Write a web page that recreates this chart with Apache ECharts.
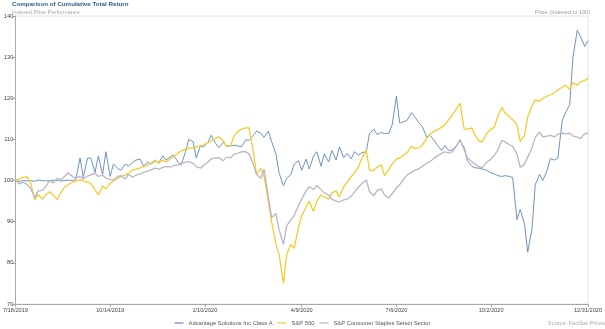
<!DOCTYPE html>
<html>
<head>
<meta charset="utf-8">
<script src="https://cdn.jsdelivr.net/npm/echarts@6/dist/echarts.min.js"></script>
<style>
  html, body { margin: 0; padding: 0; background: #fff; }
  #chart { width: 605px; height: 329px; }
</style>
</head>
<body>
<div id="chart"></div>
<script>
// Sample dates (twice a week), 7/18/2019 .. 12/31/2020
const dates = [
  '2019-07-18','2019-07-22','2019-07-25','2019-07-29','2019-08-01','2019-08-05','2019-08-08','2019-08-12','2019-08-15','2019-08-19',
  '2019-08-22','2019-08-26','2019-08-29','2019-09-02','2019-09-05','2019-09-09','2019-09-12','2019-09-16','2019-09-19','2019-09-23',
  '2019-09-26','2019-09-30','2019-10-03','2019-10-07','2019-10-10','2019-10-14','2019-10-17','2019-10-21','2019-10-24','2019-10-28',
  '2019-10-31','2019-11-04','2019-11-07','2019-11-11','2019-11-14','2019-11-18','2019-11-21','2019-11-25','2019-11-28','2019-12-02',
  '2019-12-05','2019-12-09','2019-12-12','2019-12-16','2019-12-19','2019-12-23','2019-12-26','2019-12-30','2020-01-02','2020-01-06',
  '2020-01-09','2020-01-13','2020-01-16','2020-01-20','2020-01-23','2020-01-27','2020-01-30','2020-02-03','2020-02-06','2020-02-10',
  '2020-02-13','2020-02-17','2020-02-20','2020-02-24','2020-02-27','2020-03-02','2020-03-05','2020-03-09','2020-03-12','2020-03-16',
  '2020-03-19','2020-03-23','2020-03-26','2020-03-30','2020-04-02','2020-04-06','2020-04-09','2020-04-13','2020-04-16','2020-04-20',
  '2020-04-23','2020-04-27','2020-04-30','2020-05-04','2020-05-07','2020-05-11','2020-05-14','2020-05-18','2020-05-21','2020-05-25',
  '2020-05-28','2020-06-01','2020-06-04','2020-06-08','2020-06-11','2020-06-15','2020-06-18','2020-06-22','2020-06-25','2020-06-29',
  '2020-07-02','2020-07-06','2020-07-09','2020-07-13','2020-07-16','2020-07-20','2020-07-23','2020-07-27','2020-07-30','2020-08-03',
  '2020-08-06','2020-08-10','2020-08-13','2020-08-17','2020-08-20','2020-08-24','2020-08-27','2020-08-31','2020-09-03','2020-09-07',
  '2020-09-10','2020-09-14','2020-09-17','2020-09-21','2020-09-24','2020-09-28','2020-10-01','2020-10-05','2020-10-08','2020-10-12',
  '2020-10-15','2020-10-19','2020-10-22','2020-10-26','2020-10-29','2020-11-02','2020-11-05','2020-11-09','2020-11-12','2020-11-16',
  '2020-11-19','2020-11-23','2020-11-26','2020-11-30','2020-12-03','2020-12-07','2020-12-10','2020-12-14','2020-12-17','2020-12-21',
  '2020-12-24','2020-12-28','2020-12-31'
];

// Indexed prices (start = 100)
const advantage = [
  100, 99.8, 100, 99.9, 100, 99.8, 100.1, 100, 99.9, 100,
  100.1, 100, 99.9, 100, 100.1, 100, 100.2, 105.5, 100.8, 105.5,
  105.5, 102, 106, 101.5, 107, 101, 104, 103, 102.5, 104,
  103.5, 104.5, 105, 105.2, 103.5, 104.5, 104, 104.8, 104.3, 106,
  105, 105.8, 106.2, 104.5, 103.8, 107, 110, 109.5, 105.5, 108.5,
  108.2, 109.4, 111, 109, 108, 109.3, 108.5, 108.4, 108.6, 108.4,
  108.2, 109.9, 109.8, 111, 112, 111.5, 110.5, 112, 109.5, 106.5,
  101.8, 98.8, 100.5, 101.5, 104, 104.8, 102.5, 105.2, 102.8, 106,
  107, 103.5, 106.5, 104.5, 107.3, 105, 108.2, 105.6, 106.6, 105.3,
  107, 106.2, 106.8, 107, 111.5, 112.5, 111.2, 111.7, 111.4, 111.5,
  113.5, 120.5, 114, 114.3, 114.7, 116.5, 115.5, 114, 113.2, 110.6,
  111, 109.8, 108.6, 107.3, 108.5, 107.2, 107.5, 108.5, 109.7, 108,
  104.8, 103.5, 103.1, 103, 102.8, 102.5, 102, 101.6, 101.2, 101,
  101.2, 101, 100.7, 90.5, 93, 89.5, 82.6, 88.3, 99, 101.5,
  100, 102.5, 105.3, 105, 105.5, 114.5, 116.4, 118.5, 130, 136.5,
  135, 132.6, 134
];

const sp500 = [
  100, 100.4, 100.8, 100.9, 99.5, 95.3, 96.6, 95.5, 96.5, 97.3,
  96.5, 95.4, 97, 98.5, 99, 99.6, 99.8, 100.2, 100, 99.6,
  99.3, 97.7, 96.5, 98.7, 98, 99.3, 99.9, 100.5, 101, 101.3,
  101.9, 102.6, 102.8, 103.1, 103.4, 103.8, 104.2, 105, 104.2, 105,
  104.5, 105.3, 105.8, 106.7, 107.2, 107.6, 107.9, 107.9, 108.2, 108.4,
  108.7, 109.3, 109.6, 110.3, 110.6, 109.7, 108.3, 108.5, 110.8, 112,
  112.5, 112.8, 112.8, 107, 101.5, 103, 101, 95, 90, 84.5,
  82, 75, 82, 84.5, 83.5, 88.7, 91.5, 93.5, 95, 92.5,
  95, 96.5, 96, 95.5, 97, 97.5, 96, 98.5, 99.5, 101,
  101.8, 103.5, 105.5, 107.4, 102.5, 102.5, 103.2, 103.8, 101.2, 102.8,
  104, 105.2, 105.5, 106.3, 106.8, 108.4, 107.8, 108, 108.6, 110.2,
  111.2, 112, 112.3, 113, 113.5, 115, 116, 117.5, 118.8, 112.5,
  112.5, 112.8, 111, 109.5, 109.5, 111.5, 112.3, 113, 115.5, 117.8,
  116.4, 115.5, 114.8, 113.5, 109.5, 111, 115.5, 118.2, 119.6, 119.3,
  120, 120.5, 120.8, 121.4, 122, 122.7, 123.2, 122.2, 123.8, 123.2,
  124, 124.3, 125
];

const staples = [
  100, 99.2, 99.6, 99, 98.2, 95.8, 97.5, 97.6, 98.5, 100.1,
  99.4, 100.6, 100.1, 101.1, 101.9, 101, 100.6, 101, 100.4, 101.1,
  101.4, 101.8, 101, 101.3, 100.6, 100.3, 100.1, 101, 101.2, 100.4,
  101.5, 100.8, 101.3, 101.6, 102, 102.3, 102.6, 103, 102.8, 103.2,
  103.4, 103.3, 103.6, 103.8, 104.2, 104.5, 104.6, 104.2, 103.4, 103,
  103.8, 104.5, 105.3, 105.5, 105.6, 104.8, 105.7, 105.5, 106.4, 106.7,
  107, 107, 106.5, 104, 101.5, 100.5, 102.8, 96, 91, 92,
  88, 84.5, 89, 90.5, 91.5, 94, 95.5, 97.5, 98.5, 97.8,
  98.8, 97.8, 97, 96.5, 95.5, 95, 94.8, 95.3, 95.5, 96.2,
  97.2, 98.5, 99.3, 100.2, 97.3, 96.3, 97.6, 98, 96.5, 95.8,
  96.8, 98.2, 99, 100.4, 101.4, 102, 102.5, 102.9, 103.5, 104.2,
  104.6, 105.4, 106, 106.6, 107, 106.7, 107, 108.5, 110, 107.5,
  105.5, 104.6, 104, 103.3, 103.2, 104.5, 105, 106.2, 107.3, 109.8,
  109.4, 108.7, 108.3, 106.5, 103.2, 104, 105.7, 108, 110.5, 111.8,
  110.6, 110.8, 111, 110.6, 111.3, 111.5, 111.4, 111.5, 110.8, 110.6,
  110.2, 111.4, 111.5
];

const seriesNames = ['Advantage Solutions Inc Class A', 'S&P 500', 'S&P Consumer Staples Select Sector'];
const tickDates = ['2019-07-18', '2019-10-14', '2020-01-10', '2020-04-09', '2020-07-06', '2020-10-02', '2020-12-31'];

const FONT = "'Liberation Sans', Arial, Helvetica, sans-serif";
const COLORS = ['#5f87b7', '#f2cd31', '#bab5c6'];

function toTime(s) {
  const p = s.split('-').map(Number);
  return new Date(p[0], p[1] - 1, p[2]).getTime();
}
function fmtDate(v) {
  const d = new Date(v);
  return (d.getMonth() + 1) + '/' + d.getDate() + '/' + d.getFullYear();
}
function pairs(values) {
  return dates.map((d, i) => [toTime(d), values[i]]);
}

const chart = echarts.init(document.getElementById('chart'), null, { renderer: 'canvas' });
const tickTimes = tickDates.map(toTime);

chart.setOption({
  animation: false,
  textStyle: { fontFamily: FONT },
  title: [
    { text: 'Comparison of Cumulative Total Return', left: 12, top: 1, padding: 0,
      textStyle: { fontFamily: FONT, fontSize: 6.2, fontWeight: 'bold', color: '#2f5a8c' } },
    { text: 'Indexed Price Performance', left: 12, top: 9, padding: 0,
      textStyle: { fontFamily: FONT, fontSize: 5.6, fontWeight: 'normal', color: '#aaaaaa' } },
    { text: 'Price (Indexed to 100)', right: 15, top: 9, padding: 0,
      textStyle: { fontFamily: FONT, fontSize: 5.6, fontWeight: 'normal', color: '#9a9a9a' } },
    { text: 'Source: FactSet Prices', right: 0, top: 320, padding: 0,
      textStyle: { fontFamily: FONT, fontSize: 5.6, fontWeight: 'normal', color: '#aaaaaa' } }
  ],
  legend: {
    data: seriesNames,
    left: 'center',
    top: 320,
    padding: 0,
    icon: 'rect',
    itemWidth: 9,
    itemHeight: 1.2,
    itemGap: 5,
    textStyle: { fontFamily: FONT, fontSize: 5.8, color: '#555' }
  },
  grid: {
    left: 12, right: 14, top: 16, bottom: 25,
    show: true, borderColor: '#e2e2e2', borderWidth: 1
  },
  xAxis: {
    type: 'value',
    min: toTime(dates[0]),
    max: toTime(dates[dates.length - 1]),
    axisLine: { lineStyle: { color: '#a8a8a8', width: 1 } },
    axisTick: { show: true, length: 3, customValues: tickTimes, lineStyle: { color: '#a8a8a8' } },
    axisLabel: {
      customValues: tickTimes,
      formatter: fmtDate,
      fontFamily: FONT, fontSize: 5.6, color: '#444', margin: 3,
      hideOverlap: false, showMinLabel: true, showMaxLabel: true
    },
    splitLine: { show: false }
  },
  yAxis: {
    type: 'value',
    min: 70, max: 140, interval: 10,
    axisLine: { show: true, lineStyle: { color: '#a8a8a8', width: 1 } },
    axisTick: { show: true, length: 3, lineStyle: { color: '#a8a8a8' } },
    axisLabel: { fontFamily: FONT, fontSize: 5.8, color: '#444', margin: 2 },
    splitLine: { show: false }
  },
  series: [
    { name: seriesNames[0], type: 'line', data: pairs(advantage), showSymbol: false,
      lineStyle: { color: COLORS[0], width: 0.9 }, itemStyle: { color: COLORS[0] } },
    { name: seriesNames[1], type: 'line', data: pairs(sp500), showSymbol: false,
      lineStyle: { color: COLORS[1], width: 1.3 }, itemStyle: { color: COLORS[1] } },
    { name: seriesNames[2], type: 'line', data: pairs(staples), showSymbol: false,
      lineStyle: { color: COLORS[2], width: 1.3 }, itemStyle: { color: COLORS[2] } }
  ]
});
</script>
</body>
</html>
